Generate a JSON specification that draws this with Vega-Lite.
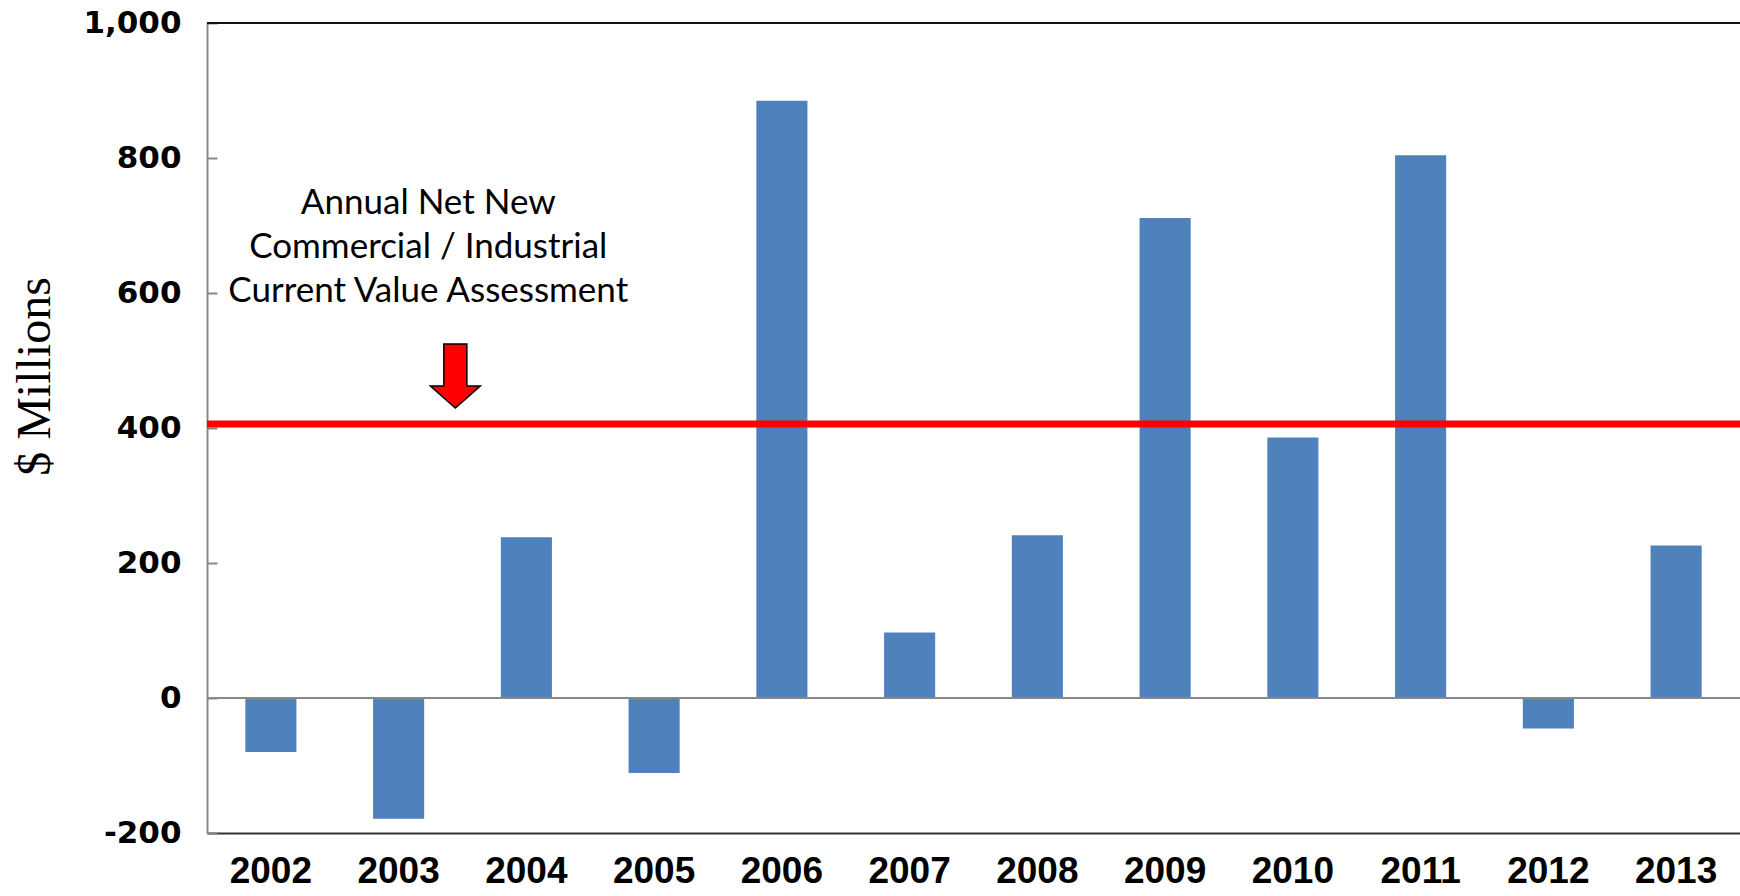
{
  "$schema": "https://vega.github.io/schema/vega-lite/v6.json",
  "width": 1533,
  "height": 810,
  "autosize": {"type": "none"},
  "padding": {"left": 207, "top": 23, "right": 0, "bottom": 63},
  "background": "white",
  "config": {"view": {"stroke": null}},
  "data": {
    "values": [
      {"year": "2002", "value": -80},
      {"year": "2003", "value": -179},
      {"year": "2004", "value": 238},
      {"year": "2005", "value": -111},
      {"year": "2006", "value": 885},
      {"year": "2007", "value": 97},
      {"year": "2008", "value": 241},
      {"year": "2009", "value": 711},
      {"year": "2010", "value": 386},
      {"year": "2011", "value": 804},
      {"year": "2012", "value": -45},
      {"year": "2013", "value": 226}
    ]
  },
  "encoding": {
    "x": {
      "field": "year",
      "type": "ordinal",
      "scale": {"paddingInner": 0.6, "paddingOuter": 0.3},
      "axis": {
        "title": null,
        "labelAngle": 0,
        "labelFont": "Liberation Sans",
        "labelFontWeight": "bold",
        "labelFontSize": 37,
        "labelColor": "black",
        "labelPadding": 20,
        "ticks": false,
        "domainColor": "#333333",
        "domainWidth": 2
      }
    },
    "y": {
      "field": "value",
      "type": "quantitative",
      "scale": {"domain": [-200, 1000], "nice": false},
      "axis": {
        "title": "$ Millions",
        "titleFont": "Liberation Serif",
        "titleFontSize": 48,
        "titleFontWeight": "normal",
        "titleColor": "black",
        "titleX": -158,
        "titleY": 353,
        "titleBaseline": "alphabetic",
        "values": [-200, 0, 200, 400, 600, 800, 1000],
        "format": ",d",
        "labelExpr": "replace(datum.label, '\u2212', '-')",
        "labelFont": "DejaVu Sans",
        "labelFontWeight": "bold",
        "labelFontSize": 31,
        "labelColor": "black",
        "labelPadding": 36,
        "tickSize": -10,
        "tickColor": "#888888",
        "tickWidth": 2,
        "domainColor": "#888888",
        "domainWidth": 2,
        "grid": false
      }
    }
  },
  "layer": [
    {
      "mark": {"type": "bar", "color": "#4F81BD"}
    },
    {
      "data": {"values": [{"level": 0, "kind": "zero"}]},
      "mark": {"type": "rule", "color": "#888888", "strokeWidth": 2},
      "encoding": {"x": null, "y": {"field": "level", "type": "quantitative"}}
    },
    {
      "data": {"values": [{"level": 1000, "kind": "top"}]},
      "mark": {"type": "rule", "color": "#111111", "strokeWidth": 2},
      "encoding": {"x": null, "y": {"field": "level", "type": "quantitative"}}
    },
    {
      "data": {"values": [{"level": 406, "kind": "average"}]},
      "mark": {"type": "rule", "color": "#FF0000", "strokeWidth": 7},
      "encoding": {"x": null, "y": {"field": "level", "type": "quantitative"}}
    },
    {
      "data": {"values": [{"year": "2003", "value": 477}]},
      "mark": {
        "type": "point",
        "shape": "M-0.36,-1 L0.36,-1 L0.36,0.31 L0.78,0.31 L0,1 L-0.78,0.31 L-0.36,0.31 Z",
        "size": 4096,
        "filled": true,
        "fill": "#FF0000",
        "stroke": "#000000",
        "strokeWidth": 1.5,
        "opacity": 1
      },
      "encoding": {
        "x": {"field": "year", "type": "ordinal", "bandPosition": 1.61},
        "y": {"field": "value", "type": "quantitative"}
      }
    },
    {
      "data": {"values": [{"year": "2003", "value": 717, "label": ["Annual Net New", "Commercial / Industrial", "Current Value Assessment"]}]},
      "mark": {
        "type": "text",
        "font": "Lato",
        "fontSize": 35,
        "lineHeight": 44,
        "align": "center",
        "baseline": "alphabetic",
        "color": "black"
      },
      "encoding": {
        "x": {"field": "year", "type": "ordinal", "bandPosition": 1.08},
        "y": {"field": "value", "type": "quantitative"},
        "text": {"field": "label"}
      }
    }
  ]
}
